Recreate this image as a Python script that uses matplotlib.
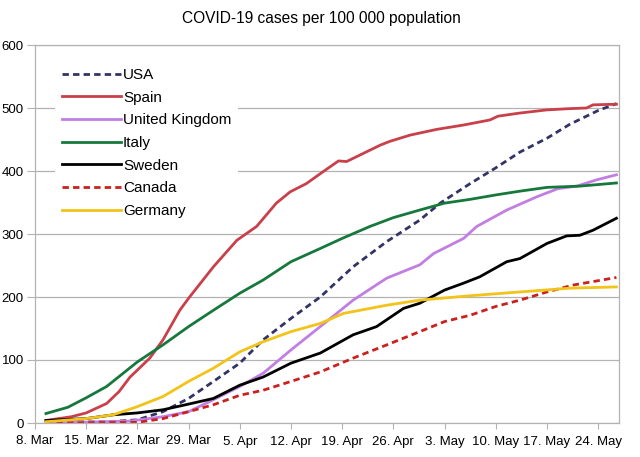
import matplotlib
matplotlib.use("Agg")
import matplotlib.pyplot as plt

plt.rcParams['font.family'] = ['Liberation Sans', 'DejaVu Sans']

title = "COVID-19 cases per 100 000 population"
tick_days = [0, 7, 14, 21, 28, 35, 42, 49, 56, 63, 70, 77]
tick_labels = ["8. Mar", "15. Mar", "22. Mar", "29. Mar", "5. Apr", "12. Apr",
               "19. Apr", "26. Apr", "3. May", "10. May", "17. May", "24. May"]

usa_days = [1.5, 10, 14, 17.5, 21, 24.4, 28, 31.2, 35, 39, 43.5, 48.1, 52.6, 55.4, 59.5, 63, 66.3, 70, 73.1, 77, 79.5]
usa_vals = [1, 2, 5, 18, 39, 66, 95, 132, 166, 200, 248, 288, 322, 349, 380, 405, 430, 452, 474, 496, 507]

spain_days = [1.5, 5, 7, 9.8, 11.5, 13, 14, 15.7, 17.5, 19.8, 21, 24.4, 27.6, 30.3, 33, 34.9, 37.1, 39.4, 41.5, 42.6,
              44.9, 47.2, 48.5, 51.3, 54.9, 58.6, 62.2, 63.3, 66.3, 70, 73.1, 75.4, 76.3, 79.5]
spain_vals = [4, 10, 16, 31, 50, 73, 84, 103, 132, 179, 198, 248, 290, 312, 349, 367, 380, 399, 416, 415,
              428, 441, 447, 457, 466, 473, 481, 487, 492, 497, 499, 500, 505, 506]

uk_days = [1.5, 13, 17.5, 21, 24.4, 28, 31.2, 35, 39, 43.5, 48.1, 52.6, 54.5, 58.6, 60.4, 64.5, 68.6, 71.5, 74.1, 76.8, 79.5]
uk_vals = [0, 3, 10, 18, 37, 58, 79, 116, 153, 195, 230, 251, 269, 293, 312, 338, 359, 372, 376, 386, 394]

italy_days = [1.5, 4.5, 7, 9.8, 14, 17.5, 21, 24.4, 28, 31.2, 35, 39, 42, 45.8, 49, 52.6, 56, 59.5, 63, 66.3, 70, 74.5, 79.5]
italy_vals = [15, 25, 40, 58, 97, 124, 153, 179, 206, 227, 256, 277, 293, 312, 326, 338, 349, 355, 362, 368, 374, 376, 381]

sweden_days = [1.5, 7, 10.7, 14, 17.5, 21, 24.4, 28, 31.2, 35, 39, 43.5, 46.7, 50.4, 52.6, 56, 58.6, 60.8,
               64.5, 66.3, 70, 72.7, 74.5, 76.3, 79.5]
sweden_vals = [4, 7, 13, 16, 21, 30, 39, 60, 73, 95, 111, 140, 153, 182, 190, 211, 222, 232,
               256, 261, 285, 297, 298, 306, 325]

canada_days = [1.5, 14, 17.5, 21, 24.4, 28, 31.2, 35, 39, 43.5, 48.1, 52.6, 56, 59.5, 63, 66.3, 70, 73.6, 79.5]
canada_vals = [0, 1, 7, 18, 29, 44, 52, 66, 81, 103, 124, 145, 161, 171, 185, 195, 208, 219, 231]

germany_days = [1.5, 7, 10.7, 14, 17.5, 21, 24.4, 28, 31.2, 35, 39, 42.2, 48.1, 52.6, 59.5, 66.3, 73.1, 79.5]
germany_vals = [2, 7, 13, 26, 42, 66, 87, 113, 129, 145, 158, 174, 187, 195, 202, 208, 214, 216]

series = [
    ("USA", usa_days, usa_vals, "#333366", (2.3, 1.5)),
    ("Spain", spain_days, spain_vals, "#c9404a", None),
    ("United Kingdom", uk_days, uk_vals, "#c17ee3", None),
    ("Italy", italy_days, italy_vals, "#16783c", None),
    ("Sweden", sweden_days, sweden_vals, "#000000", None),
    ("Canada", canada_days, canada_vals, "#c9211e", (2.3, 1.5)),
    ("Germany", germany_days, germany_vals, "#f2c318", None),
]

W, H = 640, 457
fig = plt.figure(figsize=(W / 100, H / 100), dpi=100)
ax = fig.add_axes([35 / W, 1 - 423 / H, (619 - 35) / W, (423 - 45) / H])

for name, d, v, c, dash in series:
    if dash:
        ax.plot(d, v, color=c, lw=2.0, dashes=dash, label=name)
    else:
        ax.plot(d, v, color=c, lw=2.0, label=name)

ax.set_xlim(0, 79.85)
ax.set_ylim(0, 600)
ax.set_yticks(range(0, 601, 100))
ax.set_xticks(tick_days)
ax.set_xticklabels(tick_labels)
grid_c = "#b3b3b3"
ax.grid(axis='y', color=grid_c, lw=0.9)
ax.set_axisbelow(True)
for s in ax.spines.values():
    s.set_color(grid_c)
    s.set_linewidth(0.9)
ax.tick_params(axis='x', direction='out', length=4, color=grid_c, labelsize=9.5, pad=5)
ax.tick_params(axis='y', direction='out', length=6, color=grid_c, labelsize=9.5, pad=2)
for t in ax.get_xticklabels() + ax.get_yticklabels():
    t.set_color('black')

fig.text(321 / W, 1 - 18 / H, title, ha='center', va='center', fontsize=11.2)

leg = ax.legend(loc='upper left', bbox_to_anchor=(55 / W, 1 - 61 / H), bbox_transform=fig.transFigure,
                frameon=True, fancybox=False, edgecolor='none', facecolor='white', framealpha=1,
                fontsize=11, handlelength=3.9, handletextpad=0.1, labelspacing=0.57,
                borderpad=0.45, borderaxespad=0)

fig.savefig("out.png", dpi=100)
